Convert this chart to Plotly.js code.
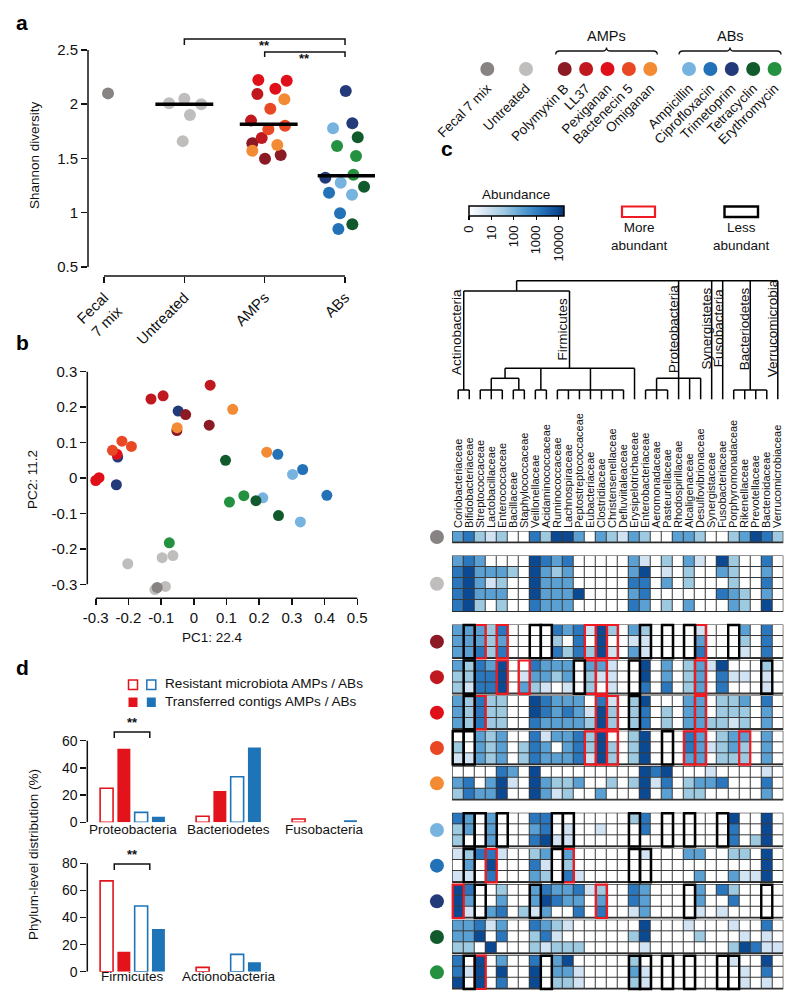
<!DOCTYPE html>
<html>
<head>
<meta charset="utf-8">
<script src="https://cdn.plot.ly/plotly-3.0.1.min.js"></script>
<style>
  body { margin: 0; background: #fff; }
  #fig { width: 800px; height: 1007px; }
</style>
</head>
<body>
<div id="fig"></div>
<script>
// page helpers (pixel -> paper)
var W = 800, H = 1007;
function px(v) { return v / W; }
function py(v) { return 1 - v / H; }
var FONT = 'Liberation Sans, Arial, sans-serif';

// ---------------- groups ----------------
var groupNames = ['Fecal 7 mix', 'Untreated', 'Polymyxin B', 'LL37', 'Pexiganan', 'Bactenecin 5', 'Omiganan',
    'Ampicillin', 'Ciprofloxacin', 'Trimetoprim', 'Tetracyclin', 'Erythromycin'];
var groupColors = ['#868382', '#c0bdbd', '#8b1a25', '#c0181f', '#e0101a', '#e94824', '#f28b33',
    '#77b3df', '#2372b7', '#233a7a', '#105a2c', '#239140'];

// ---------------- panel a : Shannon diversity ----------------
var aCats = ['Fecal<br>7 mix', 'Untreated', 'AMPs', 'ABs'];
var shanX = [
    [0.05],
    [0.81, 1.00, 1.21, 1.07, 0.98],
    [1.846, 2.004, 2.199],
    [1.909, 1.830, 1.963],
    [1.921, 2.274, 2.133],
    [2.070, 2.046, 2.253],
    [2.245, 1.846, 2.157],
    [2.851, 2.946, 3.087],
    [2.801, 2.938, 2.917],
    [3.009, 3.091, 2.755],
    [3.158, 3.237, 3.091],
    [2.901, 3.137, 3.104]
];
var shanY = [
    [2.10],
    [2.01, 2.05, 2.00, 1.90, 1.66],
    [1.640, 1.498, 1.532],
    [2.094, 1.849, 1.689],
    [2.224, 2.217, 2.143],
    [1.959, 1.769, 1.802],
    [2.045, 1.572, 1.624],
    [1.778, 1.277, 1.166],
    [1.185, 0.995, 0.850],
    [2.122, 1.824, 1.323],
    [1.695, 1.240, 0.893],
    [1.615, 1.523, 1.351]
];
var shanMedian = [2.00, 1.815, 1.34];
var medianCenter = [1.0, 2.05, 3.02];

// ---------------- panel b : PCoA ----------------
var pc1 = [
    [-0.112],
    [-0.202, -0.097, -0.064, -0.087, -0.119],
    [-0.025, 0.047, -0.052],
    [-0.131, -0.094, 0.050],
    [-0.300, -0.290, -0.235],
    [-0.249, -0.220, -0.191],
    [0.119, -0.051, 0.223],
    [0.302, 0.326, 0.211],
    [0.257, 0.333, 0.407],
    [-0.048, -0.233, -0.237],
    [0.097, 0.190, 0.259],
    [0.109, 0.153, -0.075]
];
var pc2 = [
    [-0.309],
    [-0.242, -0.225, -0.219, -0.306, -0.315],
    [0.179, 0.149, 0.134],
    [0.223, 0.232, 0.262],
    [-0.007, 0.001, 0.067],
    [0.078, 0.104, 0.089],
    [0.194, 0.142, 0.073],
    [0.010, -0.124, -0.056],
    [0.067, 0.024, -0.049],
    [0.189, 0.059, -0.019],
    [0.050, -0.064, -0.106],
    [-0.068, -0.050, -0.183]
];

// ---------------- panel c : heatmap ----------------
var families = ['Coriobacteriaceae', 'Bifidobacteriaceae', 'Streptococcaceae', 'Lactobacillaceae', 'Enterococcaceae',
    'Bacillaceae', 'Staphylococcaceae', 'Veillonellaceae', 'Acidaminococcaceae', 'Ruminococcaceae', 'Lachnospiraceae',
    'Peptostreptococcaceae', 'Eubacteriaceae', 'Clostridiaceae', 'Christensenellaceae', 'Defluviitaleaceae',
    'Erysipelotrichaceae', 'Enterobacteriaceae', 'Aeromonadaceae', 'Pasteurellaceae', 'Rhodospirillaceae',
    'Alcaligenaceae', 'Desulfovibrionaceae', 'Synergistaceae', 'Fusobacteriaceae', 'Porphyromonadaceae',
    'Rikenellaceae', 'Prevotellaceae', 'Bacteroidaceae', 'Verrucomicrobiaceae'];
// abundance level per cell (0 = absent ... 5 = highest), one string per sample
var heatRows = [
    ['342120042553032132003320023542'],
    ['343000054340000031020310520040',
     '453332053230000035010200320030',
     '453120053330000044030200020040',
     '453330053335000034000000432030',
     '452020043330000043020300032050'],
    ['333240000434152032000010003040',
     '333230000204050011000030002040',
     '334240000424251031000040001040'],
    ['324350043330331005030231500020',
     '224450133230211005030230411010',
     '214450321010201004040230400010'],
    ['324220054333041025000330223040',
     '324220054343152024020330222030',
     '324220043333252024020332212030'],
    ['003230041334250025000430233030',
     '203230243034252025000431232030',
     '113230243334152025000330222030'],
    ['000043050000000005450001000010',
     '340351053223002025140233400040',
     '243350053120030005030220000030'],
    ['430300044000000024000000050050',
     '230300034010010004000000040050',
     '200300045110000000000000040250'],
    ['124410023030000001000330022050',
     '030500041020000000000000000050',
     '110400032041000000000030031150'],
    ['540020034334120043000030420000',
     '530030035433030043000030040000',
     '510340213004040013000010100000'],
    ['334130043210000005000100010040',
     '335040024100000025000020001010',
     '220500021222000001000000025411'],
    ['405030040350000020000000010050',
     '415050050331000031000000001040',
     '505040050221000021000000001010']
];
// columns boxed as more / less abundant, per sample group
var moreBoxes = [[], [], [2, 4, 12, 13, 14, 22], [4, 6, 12, 13, 22], [2, 13, 14, 22], [12, 13, 14, 21, 22, 26], [],
    [], [3, 10], [0, 13], [], [2]];
var lessBoxes = [[], [], [1, 7, 8, 17, 19, 21, 25], [1, 11, 16, 28], [1, 16], [0, 1, 19], [],
    [1, 2, 4, 9, 10, 16, 19, 21, 24], [1, 9, 16, 17], [2, 7, 21, 28], [], [1, 8, 16, 17, 19, 21, 24, 25]];
var phyla = ['Actinobacteria', 'Firmicutes', 'Proteobacteria', 'Synergistetes', 'Fusobacteria', 'Bacteriodetes', 'Verrucomicrobia'];
var abundTicks = ['0', '10', '100', '1000', '10000'];

// ---------------- panel d : phylum distribution ----------------
var phylaTop = ['Proteobacteria', 'Bacteriodetes', 'Fusobacteria'];
var resAmpTop = [25, 4.5, 2.4];
var trAmpTop = [54, 23, null];
var resAbTop = [7.3, 33.5, null];
var trAbTop = [4, 55, 1.5];
var phylaBot = ['Firmicutes', 'Actionobacteria'];
var resAmpBot = [67, 3.2];
var trAmpBot = [14.8, null];
var resAbBot = [48.5, 12.8];
var trAbBot = [31.5, 6.9];

// ======================================================================
var RED = '#e3131b', BLUE = '#1f74b8', BOXRED = '#f01a22';
var data = [];
var shapes = [];
var annotations = [];

function line(xref, yref, x0, y0, x1, y1, w, c) {
    shapes.push({ type: 'line', xref: xref, yref: yref, x0: x0, y0: y0, x1: x1, y1: y1,
        line: { color: c || '#111', width: w || 1.5 } });
}
function ann(text, x, y, o) {
    var a = { text: text, x: x, y: y, xref: 'paper', yref: 'paper', showarrow: false,
        font: { family: FONT, size: 13, color: '#111' }, xanchor: 'center', yanchor: 'middle' };
    for (var k in o) a[k] = o[k];
    annotations.push(a);
}

// ---- panel a
for (var g = 0; g < 12; g++) {
    data.push({ type: 'scatter', mode: 'markers', xaxis: 'x', yaxis: 'y', x: shanX[g], y: shanY[g],
        marker: { size: 12, color: groupColors[g] }, cliponaxis: false, hoverinfo: 'skip' });
}
shanMedian.forEach(function (m, i) {
    data.push({ type: 'scatter', mode: 'lines', xaxis: 'x', yaxis: 'y',
        x: [medianCenter[i] - 0.36, medianCenter[i] + 0.36], y: [m, m],
        line: { color: '#000', width: 3.5 }, cliponaxis: false, hoverinfo: 'skip' });
});
line('paper', 'y', px(88), 0.5, px(88), 2.5);
line('x', 'paper', 0, py(276), 3, py(276));
// significance brackets
[[1, 3, 39, 45, 36], [2, 3, 52, 57, 49]].forEach(function (b) {
    shapes.push({ type: 'path', xref: 'x', yref: 'paper',
        path: 'M' + b[0] + ',' + py(b[3]) + ' L' + b[0] + ',' + py(b[2]) + ' L' + b[1] + ',' + py(b[2]) + ' L' + b[1] + ',' + py(b[3]),
        line: { color: '#111', width: 1.5 } });
    annotations.push({ text: '<b>**</b>', xref: 'x', yref: 'paper', x: (b[0] + b[1]) / 2, y: py(b[4]), showarrow: false,
        font: { family: FONT, size: 13, color: '#111' } });
});
ann('Shannon diversity', px(34), py(155), { textangle: -90, font: { family: FONT, size: 13.5, color: '#111' } });
ann('<b>a</b>', px(22), py(22), { font: { family: FONT, size: 21, color: '#000' } });

// ---- panel b
[1, 0, 7, 8, 9, 10, 11, 2, 3, 4, 5, 6].forEach(function (g) {
    data.push({ type: 'scatter', mode: 'markers', xaxis: 'x2', yaxis: 'y2', x: pc1[g], y: pc2[g],
        marker: { size: 11, color: groupColors[g] }, cliponaxis: false, hoverinfo: 'skip' });
});
line('paper', 'y2', px(87.3), -0.3, px(87.3), 0.3);
line('x2', 'paper', -0.3, py(598.3), 0.5, py(598.3));
ann('PC1: 22.4', px(212), py(637), { font: { family: FONT, size: 13.5, color: '#111' } });
ann('PC2: 11.2', px(33), py(480), { textangle: -90, font: { family: FONT, size: 13.5, color: '#111' } });
ann('<b>b</b>', px(22), py(343), { font: { family: FONT, size: 21, color: '#000' } });

// ---- panel d
function bars(xa, ya, vals, fill, col) {
    data.push({ type: 'bar', xaxis: xa, yaxis: ya, x: vals.map(function (v, i) { return i; }), y: vals,
        marker: { color: fill ? col : '#fff', line: { color: col, width: fill ? 0 : 1.6 } },
        cliponaxis: false, hoverinfo: 'skip' });
}
bars('x4', 'y4', resAmpTop, false, RED);
bars('x4', 'y4', trAmpTop, true, RED);
bars('x4', 'y4', resAbTop, false, BLUE);
bars('x4', 'y4', trAbTop, true, BLUE);
bars('x5', 'y5', resAmpBot, false, RED);
bars('x5', 'y5', trAmpBot, true, RED);
bars('x5', 'y5', resAbBot, false, BLUE);
bars('x5', 'y5', trAbBot, true, BLUE);
line('paper', 'y4', px(87.3), 0, px(87.3), 60);
line('paper', 'y5', px(87.3), 0, px(87.3), 80);
phylaTop.forEach(function (p, i) {
    annotations.push({ text: p, xref: 'x4', yref: 'paper', x: i, y: py(839), showarrow: false,
        font: { family: FONT, size: 13.5, color: '#111' } });
});
phylaBot.forEach(function (p, i) {
    annotations.push({ text: p, xref: 'x5', yref: 'paper', x: i, y: py(986), showarrow: false,
        font: { family: FONT, size: 13.5, color: '#111' } });
});
[['x4', 732, 738, 732], ['x5', 864, 870, 864]].forEach(function (b) {
    shapes.push({ type: 'path', xref: b[0], yref: 'paper',
        path: 'M-0.19,' + py(b[2]) + ' L-0.19,' + py(b[1]) + ' L0.18,' + py(b[1]) + ' L0.18,' + py(b[2]),
        line: { color: '#111', width: 1.5 } });
    annotations.push({ text: '<b>**</b>', xref: b[0], yref: 'paper', x: 0, y: py(b[3]), showarrow: false,
        font: { family: FONT, size: 13, color: '#111' } });
});
// legend of d
[[128.5, 680, false, RED], [146.8, 680, false, BLUE], [128.5, 697.5, true, RED], [146.8, 697.5, true, BLUE]].forEach(function (s) {
    shapes.push({ type: 'rect', xref: 'paper', yref: 'paper', x0: px(s[0]), x1: px(s[0] + 9), y0: py(s[1]), y1: py(s[1] + 9.5),
        fillcolor: s[2] ? s[3] : '#fff', line: { color: s[3], width: s[2] ? 0 : 1.5 } });
});
ann('Resistant microbiota AMPs / ABs', px(163), py(683), { xanchor: 'left', font: { family: FONT, size: 13.6, color: '#111' } });
ann('Transferred contigs AMPs / ABs', px(163), py(701.5), { xanchor: 'left', font: { family: FONT, size: 13.6, color: '#111' } });
ann('Phylum-level distribution (%)', px(33), py(855), { textangle: -90, font: { family: FONT, size: 13.5, color: '#111' } });
ann('<b>d</b>', px(22), py(667), { font: { family: FONT, size: 21, color: '#000' } });

// ---- top-right group legend
var legX = [];
var lx = 487.3;
[1, 1, 5, 5].forEach(function (n) {
    for (var k = 0; k < n; k++) { legX.push(lx); lx += (k < n - 1) ? 21.4 : 38.7; }
});
data.push({ type: 'scatter', mode: 'markers', xaxis: 'x6', yaxis: 'y6', x: legX, y: legX.map(function () { return 0.5; }),
    marker: { size: 14, color: groupColors }, cliponaxis: false, hoverinfo: 'skip' });
function brace(x1, x2, yb, ym, yt) {
    var r = 4, xc = (x1 + x2) / 2;
    return 'M' + px(x1) + ',' + py(yb) + ' Q' + px(x1) + ',' + py(ym) + ' ' + px(x1 + r) + ',' + py(ym) +
        ' L' + px(xc - r) + ',' + py(ym) + ' Q' + px(xc) + ',' + py(ym) + ' ' + px(xc) + ',' + py(yt) +
        ' Q' + px(xc) + ',' + py(ym) + ' ' + px(xc + r) + ',' + py(ym) +
        ' L' + px(x2 - r) + ',' + py(ym) + ' Q' + px(x2) + ',' + py(ym) + ' ' + px(x2) + ',' + py(yb);
}
shapes.push({ type: 'path', xref: 'paper', yref: 'paper', path: brace(555.7, 657.3, 54.5, 51, 47.5), line: { color: '#111', width: 1.3 } });
shapes.push({ type: 'path', xref: 'paper', yref: 'paper', path: brace(679, 781, 54.5, 51, 47.5), line: { color: '#111', width: 1.3 } });
ann('AMPs', px(606.5), py(36), { font: { family: FONT, size: 14.5, color: '#111' } });
ann('ABs', px(730), py(36), { font: { family: FONT, size: 14.5, color: '#111' } });

// ---- panel c heatmap
var blockTops = [531.5, 556, 625, 660.5, 696, 731.3, 766.7, 813.3, 849, 884.7, 920.3, 955.7];
var rowH = 11.1;
heatRows.forEach(function (rows, b) {
    var top = blockTops[b], bot = top + rows.length * rowH;
    shapes.push({ type: 'rect', xref: 'x3', yref: 'y3', layer: 'below', x0: -0.5, x1: 29.5, y0: top, y1: bot,
        fillcolor: '#3a3a3a', line: { color: '#2a2a2a', width: 1.2 } });
    data.push({ type: 'heatmap', xaxis: 'x3', yaxis: 'y3', coloraxis: 'coloraxis',
        z: rows.map(function (r) { return r.split('').map(function (d) { return +d * 0.79; }); }),
        x0: 0, dx: 1, y0: top + rowH / 2, dy: rowH, xgap: 1, ygap: 1, hoverinfo: 'skip' });
    moreBoxes[b].forEach(function (c) {
        shapes.push({ type: 'rect', xref: 'x3', yref: 'y3', x0: c - 0.5, x1: c + 0.5, y0: top, y1: bot,
            line: { color: BOXRED, width: 2.2 } });
    });
    lessBoxes[b].forEach(function (c) {
        shapes.push({ type: 'rect', xref: 'x3', yref: 'y3', x0: c - 0.5, x1: c + 0.5, y0: top, y1: bot,
            line: { color: '#000', width: 2.4 } });
    });
});
data.push({ type: 'scatter', mode: 'markers', xaxis: 'x3', yaxis: 'y3',
    x: groupNames.map(function () { return -1.93; }),
    y: heatRows.map(function (rows, b) { return blockTops[b] + rows.length * rowH / 2; }),
    marker: { size: 14, color: groupColors }, cliponaxis: false, hoverinfo: 'skip' });

// dendrogram (x in column units, y in px)
var dendro = [
    [5.3, 280.7, 29, 280.7], [5.3, 280.7, 5.3, 291], [0.5, 291, 10.1, 291],
    [0.5, 291, 0.5, 390], [0, 390, 1, 390],
    [10.1, 291, 10.1, 368.3], [4.25, 368.3, 16, 368.3], [4.25, 368.3, 4.25, 378.3], [3, 378.3, 5.5, 378.3],
    [3, 378.3, 3, 390], [2, 390, 4, 390], [5.5, 378.3, 5.5, 390], [5, 390, 6, 390],
    [7.5, 368.3, 7.5, 390], [7, 390, 8, 390], [12, 368.3, 12, 390], [9, 390, 15, 390], [16, 368.3, 16, 399.3],
    [20, 280.7, 20, 378.3], [18, 378.3, 22, 378.3], [18, 378.3, 18, 390], [17, 390, 19, 390],
    [20, 378.3, 20, 399.3], [21, 378.3, 21, 399.3], [22, 378.3, 22, 399.3],
    [23, 280.7, 23, 399.3], [24, 280.7, 24, 399.3],
    [26.5, 280.7, 26.5, 390], [25, 390, 28, 390], [29, 280.7, 29, 399.3]
];
[0, 1, 2, 3, 4, 5, 6, 7, 8, 9, 10, 11, 12, 13, 14, 15, 17, 18, 19, 25, 26, 27, 28].forEach(function (c) {
    dendro.push([c, 390, c, 399.3]);
});
dendro.forEach(function (s) { line('x3', 'paper', s[0], py(s[1]), s[2], py(s[3]), 1.5, '#000'); });
var phylaPos = [[-0.2, 377], [9.5, 362], [19.5, 375], [22.45, 372], [23.6, 369.5], [26.0, 372], [28.55, 379.5]];
phyla.forEach(function (p, i) {
    annotations.push({ text: p, xref: 'x3', yref: 'paper', x: phylaPos[i][0], y: py(phylaPos[i][1]), showarrow: false,
        textangle: -90, xanchor: 'center', yanchor: 'bottom', font: { family: FONT, size: 13.5, color: '#111' } });
});

// heatmap legends
ann('Abundance', px(516), py(194), { font: { family: FONT, size: 13.5, color: '#111' } });
shapes.push({ type: 'rect', xref: 'paper', yref: 'paper', x0: px(622), x1: px(655), y0: py(206.5), y1: py(217),
    line: { color: BOXRED, width: 2.2 } });
shapes.push({ type: 'rect', xref: 'paper', yref: 'paper', x0: px(724.5), x1: px(758), y0: py(206.5), y1: py(217),
    line: { color: '#000', width: 2.4 } });
ann('More<br>abundant', px(639), py(236.5), { font: { family: FONT, size: 13.5, color: '#111' } });
ann('Less<br>abundant', px(741.5), py(236.5), { font: { family: FONT, size: 13.5, color: '#111' } });
ann('<b>c</b>', px(447), py(148), { font: { family: FONT, size: 21, color: '#000' } });

// ======================================================================
function baseAxis(o) {
    var a = { showgrid: false, zeroline: false, showline: false, fixedrange: true,
        ticks: 'outside', ticklen: 6, tickwidth: 1.5, tickcolor: '#111',
        tickfont: { family: FONT, size: 15, color: '#111' } };
    for (var k in o) a[k] = o[k];
    return a;
}

var layout = {
    width: W, height: H,
    margin: { l: 0, r: 0, t: 0, b: 0 },
    paper_bgcolor: '#fff', plot_bgcolor: 'rgba(0,0,0,0)',
    font: { family: FONT, size: 13, color: '#111' },
    showlegend: false, hovermode: false,
    barmode: 'group', bargap: 0.28, bargroupgap: 0.25,
    xaxis: baseAxis({ domain: [px(88), px(375)], range: [-0.199, 3.373], anchor: 'y',
        tickvals: [0, 1, 2, 3], ticktext: aCats, tickangle: -45 }),
    yaxis: baseAxis({ domain: [py(276), py(40)], range: [0.417, 2.592], anchor: 'x',
        tickvals: [0.5, 1, 1.5, 2, 2.5], ticktext: ['0.5', '1', '1.5', '2', '2.5'] }),
    xaxis2: baseAxis({ domain: [px(87.3), px(362)], range: [-0.3259, 0.5145], anchor: 'y2',
        tickvals: [-0.3, -0.2, -0.1, 0, 0.1, 0.2, 0.3, 0.4, 0.5],
        ticktext: ['-0.3', '-0.2', '-0.1', '0', '0.1', '0.2', '0.3', '0.4', '0.5'] }),
    yaxis2: baseAxis({ domain: [py(598.3), py(362)], range: [-0.3395, 0.3274], anchor: 'x2',
        tickvals: [-0.3, -0.2, -0.1, 0, 0.1, 0.2, 0.3],
        ticktext: ['-0.3', '-0.2', '-0.1', '0', '0.1', '0.2', '0.3'] }),
    xaxis3: baseAxis({ domain: [px(430), px(783.3)], range: [-2.56, 29.5], anchor: 'y3', side: 'top',
        tickvals: families.map(function (f, i) { return i; }), ticktext: families, tickangle: -90, ticks: '',
        tickfont: { family: FONT, size: 11, color: '#111' } }),
    yaxis3: { domain: [py(995), py(529)], range: [995, 529], anchor: 'x3', visible: false, fixedrange: true },
    xaxis4: baseAxis({ domain: [px(87.3), px(370)], range: [-0.471, 2.474], anchor: 'y4', showticklabels: false, ticks: '' }),
    yaxis4: baseAxis({ domain: [py(822.3), py(735)], range: [0, 64.2], anchor: 'x4', tickvals: [0, 20, 40, 60],
        tickfont: { family: FONT, size: 14, color: '#111' } }),
    xaxis5: baseAxis({ domain: [px(87.3), px(370)], range: [-0.471, 2.474], anchor: 'y5', showticklabels: false, ticks: '' }),
    yaxis5: baseAxis({ domain: [py(971.7), py(858)], range: [0, 83.9], anchor: 'x5', tickvals: [0, 20, 40, 60, 80],
        tickfont: { family: FONT, size: 14, color: '#111' } }),
    xaxis6: baseAxis({ domain: [0, 1], range: [0, 800], anchor: 'y6', tickvals: legX, ticktext: groupNames,
        tickangle: -45, ticks: '', tickfont: { family: FONT, size: 13.5, color: '#111' } }),
    yaxis6: { domain: [py(77), py(61)], range: [0, 1], anchor: 'x6', visible: false, fixedrange: true },
    coloraxis: {
        cmin: 0, cmax: 4.24,
        colorscale: [[0, '#ffffff'], [0.186, '#d2e3f3'], [0.373, '#9ecae1'], [0.559, '#5aa0d3'],
            [0.745, '#2a77be'], [0.93, '#0c4a94'], [1, '#08306b']],
        colorbar: {
            orientation: 'h', x: px(469), xanchor: 'left', y: py(206), yanchor: 'top',
            len: 94.7 / W, lenmode: 'fraction', thickness: 10, thicknessmode: 'pixels',
            xpad: 0, ypad: 0, outlinewidth: 1.5, outlinecolor: '#000',
            ticks: 'outside', ticklen: 4, tickwidth: 1.2, tickcolor: '#000',
            tickvals: [0, 1, 2, 3, 4], ticktext: abundTicks, tickangle: -90,
            tickfont: { family: FONT, size: 13, color: '#111' }
        }
    },
    shapes: shapes,
    annotations: annotations
};

Plotly.newPlot('fig', data, layout, { staticPlot: true });
</script>
</body>
</html>
